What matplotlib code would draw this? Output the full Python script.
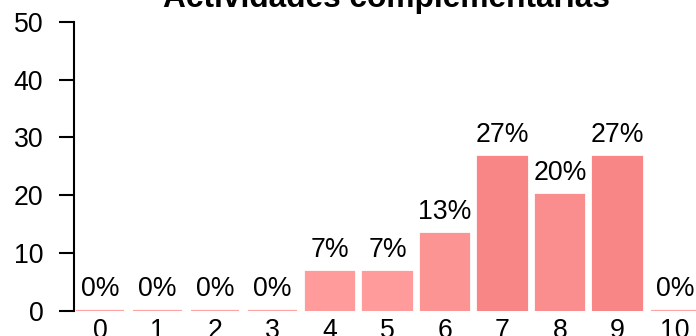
import matplotlib
matplotlib.use("Agg")
import matplotlib.pyplot as plt

plt.rcParams['font.family'] = ['Liberation Sans', 'DejaVu Sans']

title = "Actividades complementarias"
categories = ["0", "1", "2", "3", "4", "5", "6", "7", "8", "9", "10"]
percent = [0, 0, 0, 0, 6.67, 6.67, 13.33, 26.67, 20.0, 26.67, 0]
labels = ["0%", "0%", "0%", "0%", "7%", "7%", "13%", "27%", "20%", "27%", "0%"]
colors = ["#FFA3A3", "#FFA3A3", "#FFA3A3", "#FFA3A3", "#FF9B9B", "#FF9B9B",
          "#FC9494", "#F98686", "#FA8E8E", "#F98686", "#FFA3A3"]
yticks = [0, 10, 20, 30, 40, 50]

W, H = 696, 336
fig = plt.figure(figsize=(W / 100, H / 100), dpi=100)

# plot region in pixels
left_px, right_px = 74.3, 696
bottom_px, top_px = 336 - 310.7, 336 - 22
ax = fig.add_axes([left_px / W, bottom_px / H,
                   (right_px - left_px) / W, (top_px - bottom_px) / H])

x = list(range(len(categories)))
ax.bar(x, percent, width=0.85, color=colors, edgecolor=colors, linewidth=1.6)

for xi, v, lab in zip(x, percent, labels):
    ax.annotate(lab, (xi, v), xytext=(0, 10.8), textcoords="offset points",
                ha="center", va="baseline", fontsize=19.2)

step = 57.5
x0 = -0.425 - 1.2 / step
ax.set_xlim(x0, x0 + (right_px - left_px) / step)
ax.set_ylim(0, 50)

for s in ["top", "right", "bottom"]:
    ax.spines[s].set_visible(False)
ax.spines["left"].set_linewidth(1.5)
ax.spines["left"].set_bounds(0, 50)

ax.set_yticks(yticks)
ax.set_yticklabels([str(t) for t in yticks])
ax.tick_params(axis="y", length=10.8, width=1.5, pad=11.5, labelsize=19.2)
ax.set_xticks(x)
ax.set_xticklabels(categories)
ax.tick_params(axis="x", length=0, pad=5, labelsize=19.2)

fig.text(386 / W, (336 - 7) / H, title, ha="center", va="baseline",
         fontsize=22.8, fontweight="bold")

fig.savefig("out.png", dpi=100)
